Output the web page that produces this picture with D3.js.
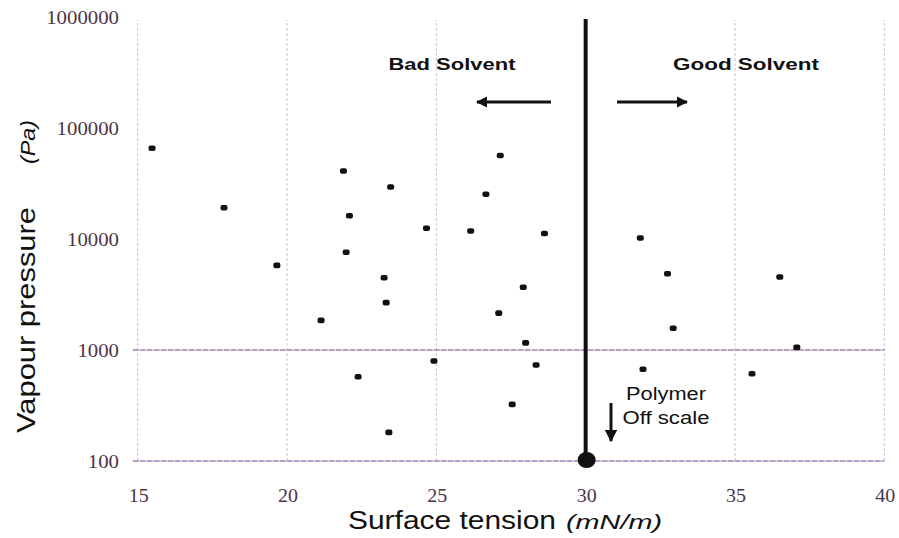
<!DOCTYPE html>
<html>
<head>
<meta charset="utf-8">
<script src="https://cdn.jsdelivr.net/npm/d3@7"></script>
<style>
  html, body { margin: 0; padding: 0; background: #fff; }
  svg { display: block; }
</style>
</head>
<body>
<svg id="chart" width="899" height="538"></svg>
<script>
// ---- data ----
const surfaceTension = [15.48, 17.89, 19.66, 21.89, 22.09, 21.98, 21.14, 23.47, 23.25, 23.32,
  22.38, 23.41, 24.67, 24.92, 27.14, 26.66, 26.15, 28.62, 27.91, 27.09,
  27.99, 28.34, 27.54, 31.83, 32.74, 32.93, 31.92, 36.50, 37.07, 35.57];
const vapourPressure = [65600, 19100, 5790, 41000, 16200, 7590, 1850, 29400, 4480, 2670,
  574, 181, 12500, 796, 56500, 25300, 11800, 11200, 3670, 2150,
  1160, 733, 324, 10200, 4870, 1570, 670, 4550, 1057, 611];
const xTicks = [15, 20, 25, 30, 35, 40];
const yTicks = [100, 1000, 10000, 100000, 1000000];
const xGrid = [15, 20, 25, 30, 35, 40];
const yGrid = [100, 1000];
const boundaryTension = 30;
const polymerPoint = [30, 100];

// ---- scales ----
const svg = d3.select("#chart");
const x = d3.scaleLinear().domain([15, 40]).range([137.7, 884.3]);
const y = d3.scaleLog().domain([100, 1000000]).range([461, 17]);

const tickColor = "#4b3347";

// vertical gridlines (faint)
svg.append("g").selectAll("line").data(xGrid).join("line")
  .attr("x1", d => x(d)).attr("x2", d => x(d))
  .attr("y1", y(100)).attr("y2", y(1000000) + 3)
  .attr("stroke", "#cdbdd8").attr("stroke-width", 1)
  .attr("stroke-dasharray", "3,2");

// horizontal gridlines
svg.append("g").selectAll("line").data(yGrid).join("line")
  .attr("x1", x(15) - 5).attr("x2", x(40))
  .attr("y1", d => y(d)).attr("y2", d => y(d))
  .attr("stroke", "#9f82b2").attr("stroke-width", 1.3)
  .attr("stroke-dasharray", "6,1");

// y tick labels
svg.append("g").selectAll("text").data(yTicks).join("text")
  .attr("x", 119).attr("y", d => y(d) + 6.5)
  .attr("text-anchor", "end")
  .attr("font-family", "'Liberation Serif', 'DejaVu Serif', serif")
  .attr("font-size", 18)
  .attr("textLength", d => String(d).length * 10.4)
  .attr("lengthAdjust", "spacingAndGlyphs")
  .attr("fill", tickColor)
  .text(d => d3.format("d")(d));

// x tick labels
svg.append("g").selectAll("text").data(xTicks).join("text")
  .attr("x", d => x(d) + 1).attr("y", 502)
  .attr("text-anchor", "middle")
  .attr("font-family", "'Liberation Serif', 'DejaVu Serif', serif")
  .attr("font-size", 18)
  .attr("textLength", 20)
  .attr("lengthAdjust", "spacingAndGlyphs")
  .attr("fill", tickColor)
  .text(d => d);

// boundary thick line
svg.append("line")
  .attr("x1", x(boundaryTension)).attr("x2", x(boundaryTension))
  .attr("y1", y(1000000) + 2).attr("y2", y(100))
  .attr("stroke", "#111").attr("stroke-width", 4);

// polymer dot
svg.append("ellipse")
  .attr("cx", x(polymerPoint[0]) + 1).attr("cy", y(polymerPoint[1]) - 1)
  .attr("rx", 9).attr("ry", 8)
  .attr("fill", "#111");

// data points
svg.append("g").selectAll("rect").data(surfaceTension).join("rect")
  .attr("x", (d, i) => x(d) - 3.5)
  .attr("y", (d, i) => y(vapourPressure[i]) - 2.8)
  .attr("width", 7).attr("height", 5.6)
  .attr("rx", 2)
  .attr("fill", "#111");

// arrow marker
const defs = svg.append("defs");
defs.append("marker").attr("id", "ah")
  .attr("viewBox", "0 0 10 10").attr("refX", 9).attr("refY", 5)
  .attr("markerWidth", 4).attr("markerHeight", 4)
  .attr("markerUnits", "strokeWidth")
  .attr("orient", "auto")
  .append("path").attr("d", "M0,0 L10,5 L0,10 Z").attr("fill", "#111");
defs.append("marker").attr("id", "ah2")
  .attr("viewBox", "0 0 10 10").attr("refX", 9).attr("refY", 5)
  .attr("markerWidth", 4.2).attr("markerHeight", 4.2)
  .attr("markerUnits", "strokeWidth")
  .attr("orient", "auto")
  .append("path").attr("d", "M0,0 L10,5 L0,10 Z").attr("fill", "#111");

const sans = "'Liberation Sans', Arial, sans-serif";

// annotations
svg.append("text").attr("x", 452).attr("y", 70).attr("text-anchor", "middle")
  .attr("font-family", sans).attr("font-weight", "bold").attr("font-size", 17)
  .attr("textLength", 127).attr("lengthAdjust", "spacingAndGlyphs")
  .attr("fill", "#111").text("Bad Solvent");
svg.append("text").attr("x", 746).attr("y", 70).attr("text-anchor", "middle")
  .attr("font-family", sans).attr("font-weight", "bold").attr("font-size", 17)
  .attr("textLength", 146).attr("lengthAdjust", "spacingAndGlyphs")
  .attr("fill", "#111").text("Good Solvent");

svg.append("line").attr("x1", 551).attr("x2", 477).attr("y1", 102).attr("y2", 102)
  .attr("stroke", "#111").attr("stroke-width", 2.8).attr("marker-end", "url(#ah)");
svg.append("line").attr("x1", 617).attr("x2", 687).attr("y1", 102).attr("y2", 102)
  .attr("stroke", "#111").attr("stroke-width", 2.8).attr("marker-end", "url(#ah)");

svg.append("text").attr("x", 666).attr("y", 400).attr("text-anchor", "middle")
  .attr("font-family", sans).attr("font-size", 17.5)
  .attr("textLength", 80).attr("lengthAdjust", "spacingAndGlyphs")
  .attr("fill", "#111").text("Polymer");
svg.append("text").attr("x", 666).attr("y", 424).attr("text-anchor", "middle")
  .attr("font-family", sans).attr("font-size", 17.5)
  .attr("textLength", 87).attr("lengthAdjust", "spacingAndGlyphs")
  .attr("fill", "#111").text("Off scale");
svg.append("line").attr("x1", 611).attr("x2", 611).attr("y1", 403).attr("y2", 441)
  .attr("stroke", "#111").attr("stroke-width", 3).attr("marker-end", "url(#ah2)");

// axis titles
svg.append("text").attr("x", 348).attr("y", 529)
  .attr("font-family", sans).attr("font-size", 26)
  .attr("textLength", 208).attr("lengthAdjust", "spacingAndGlyphs")
  .attr("fill", "#111").text("Surface tension");
svg.append("text").attr("x", 566).attr("y", 529)
  .attr("font-family", sans).attr("font-style", "italic").attr("font-size", 21)
  .attr("textLength", 96).attr("lengthAdjust", "spacingAndGlyphs")
  .attr("fill", "#111").text("(mN/m)");

svg.append("text")
  .attr("transform", "translate(35,433) rotate(-90)")
  .attr("font-family", sans).attr("font-size", 26)
  .attr("textLength", 226).attr("lengthAdjust", "spacingAndGlyphs")
  .attr("fill", "#111").text("Vapour pressure");
svg.append("text")
  .attr("transform", "translate(35,164) rotate(-90)")
  .attr("font-family", sans).attr("font-style", "italic").attr("font-size", 21)
  .attr("textLength", 44).attr("lengthAdjust", "spacingAndGlyphs")
  .attr("fill", "#111").text("(Pa)");
</script>
</body>
</html>
